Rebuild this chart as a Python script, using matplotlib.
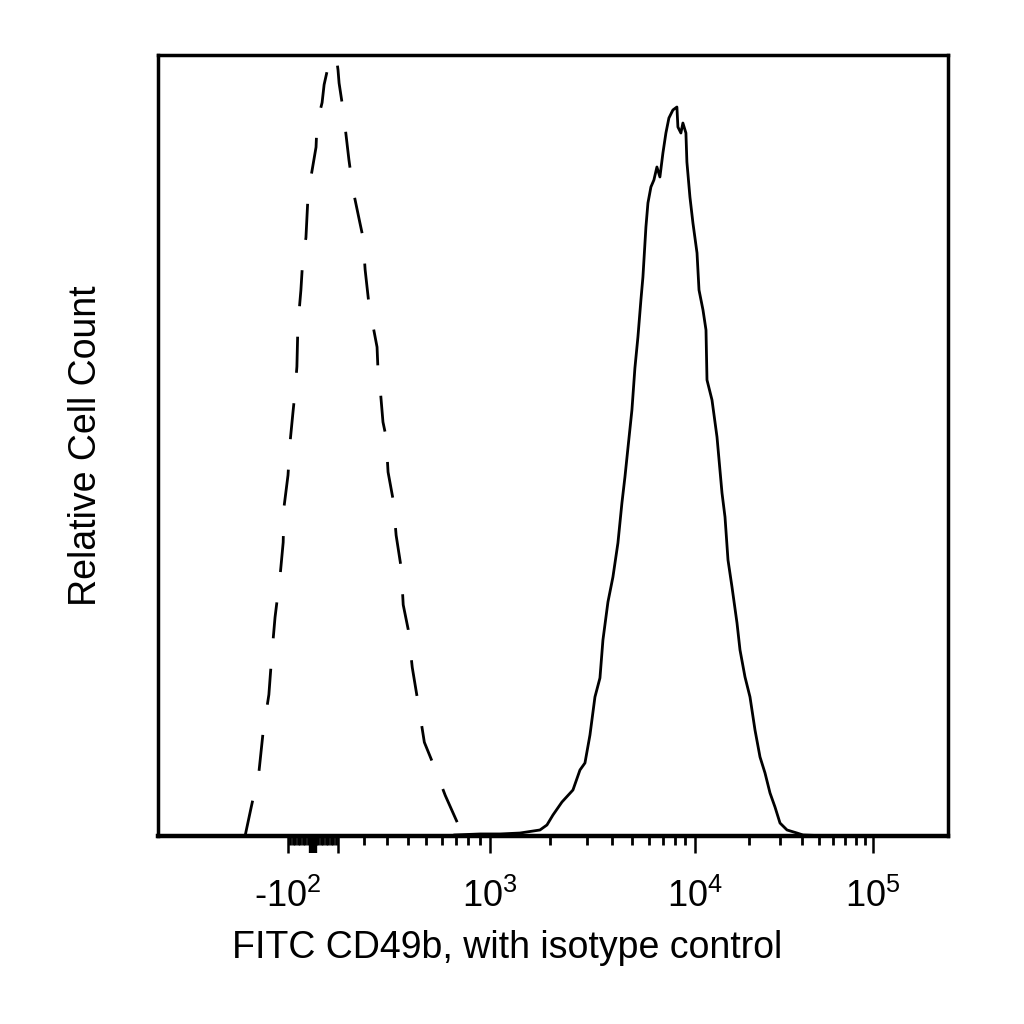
import numpy as np
import matplotlib
matplotlib.use("Agg")
import matplotlib.pyplot as plt

plt.rcParams['font.family'] = ['Liberation Sans', 'DejaVu Sans']
plt.rcParams['mathtext.fontset'] = 'custom'
plt.rcParams['mathtext.rm'] = 'Liberation Sans'
plt.rcParams['mathtext.it'] = 'Liberation Sans:italic'

# isotype control (dashed), fluorescence vs relative count (% of max)
iso_x = [-272, -246, -213, -196, -173, -161, -149, -130, -118, -115, -100, -92, -80,
         -72, -64, -60, -48, -40, -28, -20, -8, 12, 16, 36, 44, 60, 92,
         100, 104, 119, 141, 157, 184, 196, 205, 221, 255, 259, 268, 281, 295,
         304, 328, 342, 367, 377, 403, 424, 458, 492, 554, 625, 724, 808]
iso_y = [0.0, 3.6, 8.2, 13.3, 18.1, 23.4, 28.0, 33.2, 37.6, 42.1, 46.2, 50.3, 54.2,
         56.7, 60.1, 65.4, 69.9, 74.1, 76.6, 81.8, 84.4, 88.2, 91.3, 93.9, 96.2, 98.5, 100.0,
         98.1, 96.4, 93.0, 86.6, 82.7, 78.5, 76.7, 72.5, 68.0, 62.6, 59.7, 57.5, 53.0, 51.1,
         46.6, 43.0, 38.5, 34.3, 29.6, 26.4, 21.6, 16.8, 12.0, 8.8, 5.2, 1.3, 0.1]

# CD49b stained sample (solid)
cd49b_x = [694, 904, 1125, 1417, 1779, 1925, 2060, 2279, 2578, 2788, 2948, 3117, 3295,
           3484, 3602, 3808, 4025, 4255, 4448, 4600, 4756, 4971, 5138, 5313, 5492, 5616,
           5806, 5937, 6137, 6344, 6558, 6780, 7010, 7246, 7491, 7831, 8185, 8276, 8555,
           8747, 9044, 9143, 9455, 9775, 10266, 10534, 11092, 11531, 11681, 12462, 13296,
           14185, 14746, 15329, 16144, 17224, 17904, 19101, 20376, 21738, 23191, 24742,
           26395, 28156, 30039, 32889, 37430, 40451, 57361]
cd49b_y = [0.13, 0.26, 0.26, 0.38, 0.77, 1.41, 2.69, 4.35, 5.89, 8.45, 9.35, 12.93, 17.80,
           20.23, 25.10, 29.96, 33.16, 37.52, 42.64, 45.97, 49.68, 54.55, 59.92, 63.89, 68.63, 71.57,
           77.98, 81.05, 83.10, 84.00, 85.66, 84.38, 87.45, 90.01, 91.93, 92.96, 93.34, 90.78, 90.01,
           91.29, 90.01, 86.30, 81.82, 78.49, 74.65, 69.91, 67.35, 64.79, 58.39, 55.83, 51.09,
           43.92, 40.85, 35.34, 31.88, 27.27, 23.82, 20.36, 17.80, 13.57, 10.12, 8.07,
           5.51, 3.71, 1.66, 0.77, 0.38, 0.13, 0.0]

major_ticks = [-100, 0, 100, 1000, 10000, 100000]
major_labels = ['-10$^2$', '', '', '10$^3$', '10$^4$', '10$^5$']
minor_ticks = ([-v for v in range(10, 100, 10)] + list(range(10, 100, 10))
               + list(range(200, 1000, 100)) + list(range(2000, 10000, 1000))
               + list(range(20000, 100000, 10000)))

# biexponential-like display: asinh core, decades stretched as on the cytometer plot
W = 380.0
_u_anchor = np.arcsinh(np.array([-10**5.5, -1e5, -1e4, -1e3, -100, 0, 100, 1e3, 1e4, 1e5, 10**5.5]) / W)
_p_anchor = np.array([-336, -247, -69, 136, 288, 313, 338, 490, 695, 873, 962], dtype=float)


def biex_forward(x):
    return np.interp(np.arcsinh(np.asarray(x, dtype=float) / W), _u_anchor, _p_anchor)


def biex_inverse(p):
    return W * np.sinh(np.interp(np.asarray(p, dtype=float), _p_anchor, _u_anchor))


fig = plt.figure(figsize=(10.24, 10.24), dpi=100)
ax = fig.add_axes([0.1543, 0.1836, 0.7715, 0.7627])
ax.set_xscale('function', functions=(biex_forward, biex_inverse))

ax.plot(iso_x, iso_y, color='black', lw=2.0, linestyle=(0, (13, 11)))
ax.plot(cd49b_x, cd49b_y, color='black', lw=2.0)

ax.set_xlim(-798, 2.64e5)
ax.set_ylim(0, 100)
ax.set_yticks([])

ax.set_xticks(major_ticks)
ax.set_xticklabels(major_labels)
ax.set_xticks(minor_ticks, minor=True)
ax.tick_params(axis='x', which='major', length=12, width=1.8, pad=19, labelsize=26, direction='out')
ax.tick_params(axis='x', which='minor', length=6.5, width=2.0, direction='out')
# thick block marking zero
zero_tick = ax.xaxis.get_major_ticks()[1]
zero_tick.tick1line.set_markeredgewidth(6)

for s in ax.spines.values():
    s.set_linewidth(2.5)
ax.spines['bottom'].set_linewidth(3.2)

ax.set_xlabel('FITC CD49b, with isotype control', fontsize=27)
ax.xaxis.set_label_coords(0.442, -0.143)
ax.xaxis.label.set_va('center')
ax.set_ylabel('Relative Cell Count', fontsize=27, labelpad=39)

fig.savefig('out.png', dpi=100, facecolor='white')
